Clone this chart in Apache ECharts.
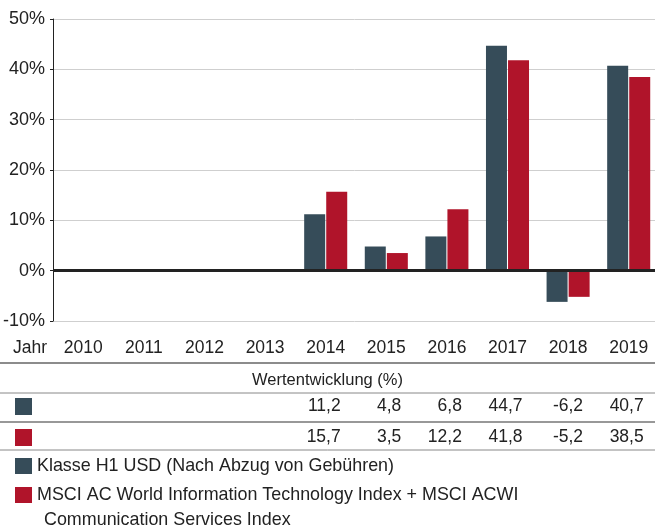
<!DOCTYPE html>
<html lang="de">

<head>
  <meta charset="UTF-8">
  <title>Wertentwicklung</title>
  <script src="https://cdn.jsdelivr.net/npm/echarts@6/dist/echarts.min.js"></script>
  <style>
    body { margin: 0; background: #fff; }
  </style>
</head>

<body>
  <div id="chart" style="height: 529px; width: 655px;"></div>
</body>
<script>
  // Daten
  const years = ['2010', '2011', '2012', '2013', '2014', '2015', '2016', '2017', '2018', '2019']
  const klasse = [null, null, null, null, 11.2, 4.8, 6.8, 44.7, -6.2, 40.7]
  const msci = [null, null, null, null, 15.7, 3.5, 12.2, 41.8, -5.2, 38.5]
  const seriesNames = [
    'Klasse H1 USD (Nach Abzug von Gebühren)',
    'MSCI AC World Information Technology Index + MSCI ACWI'
  ]
  const yMin = -10, yMax = 50, yStep = 10

  const dark = '#364c59'
  const red = '#b0142a'
  const txt = '#222'
  const font = '"Liberation Sans", Arial, sans-serif'
  const fs = 17.5

  let myCharts = echarts.init(document.getElementById('chart'))

  const fmt = v => v == null ? '' : String(v).replace('.', ',')

  // Tabellenzeile als eigene x-Achse, damit die Werte unter den Jahren stehen
  const rowAxis = (values, margin) => ({
    type: 'category',
    gridIndex: 0,
    position: 'bottom',
    data: values.map(fmt),
    axisLine: { show: false, onZero: false },
    axisTick: { show: false },
    axisLabel: {
      margin: margin,
      interval: 0,
      formatter: v => v === '' ? '' : '{v|' + v + '}',
      rich: { v: { width: 30, align: 'right', fontSize: fs, color: txt, fontFamily: font } }
    }
  })

  const hline = (y, color, w) => ({
    type: 'line',
    shape: { x1: 0, y1: y, x2: 655, y2: y },
    style: { stroke: color, lineWidth: w }
  })

  let option = {
    animation: false,
    textStyle: { fontFamily: font },
    grid: { left: 53, width: 606, top: 19, bottom: 208, containLabel: false, outerBoundsMode: 'none' },
    legend: {
      orient: 'vertical',
      left: 15,
      top: 456,
      padding: 0,
      itemWidth: 17,
      itemHeight: 16,
      itemGap: 9,
      icon: 'rect',
      data: seriesNames,
      textStyle: { fontSize: 17.9, color: txt, lineHeight: 20 }
    },
    xAxis: [
      {
        type: 'category',
        data: years,
        axisLine: { show: false, onZero: false },
        axisTick: { show: false },
        axisLabel: { margin: 18, interval: 0, fontSize: fs, color: txt }
      },
      rowAxis(klasse, 76),
      rowAxis(msci, 107)
    ],
    yAxis: {
      type: 'value',
      min: yMin,
      max: yMax,
      interval: yStep,
      axisLine: { show: true, lineStyle: { color: txt, width: 1 } },
      axisTick: { show: true, length: 3, lineStyle: { color: txt } },
      axisLabel: { formatter: '{value}%', fontSize: 18, color: txt, margin: 8 },
      splitLine: { lineStyle: { color: '#cfcfcf', width: 1 } }
    },
    series: [
      {
        name: seriesNames[0],
        type: 'bar',
        data: klasse,
        barWidth: 21,
        barGap: '5%',
        itemStyle: { color: dark },
        markLine: {
          silent: true,
          symbol: 'none',
          label: { show: false },
          lineStyle: { color: txt, width: 3, type: 'solid' },
          data: [{ yAxis: 0 }]
        }
      },
      {
        name: seriesNames[1],
        type: 'bar',
        data: msci,
        barWidth: 21,
        itemStyle: { color: red }
      }
    ],
    graphic: [
      { type: 'text', left: 13, top: 339, style: { text: 'Jahr', fill: txt, font: fs + 'px ' + font } },
      hline(363, '#666', 1.5),
      { type: 'text', left: 'center', top: 372, style: { text: 'Wertentwicklung (%)', fill: txt, font: '16.5px ' + font } },
      hline(393, '#888', 1),
      { type: 'rect', shape: { x: 15, y: 398, width: 17, height: 17 }, style: { fill: dark } },
      hline(422, '#333', 1.2),
      { type: 'rect', shape: { x: 15, y: 429, width: 17, height: 17 }, style: { fill: red } },
      hline(450, '#888', 1),
      { type: 'text', left: 44, top: 511, style: { text: 'Communication Services Index', fill: txt, font: '17.9px ' + font } }
    ]
  }
  myCharts.setOption(option)
</script>

</html>
